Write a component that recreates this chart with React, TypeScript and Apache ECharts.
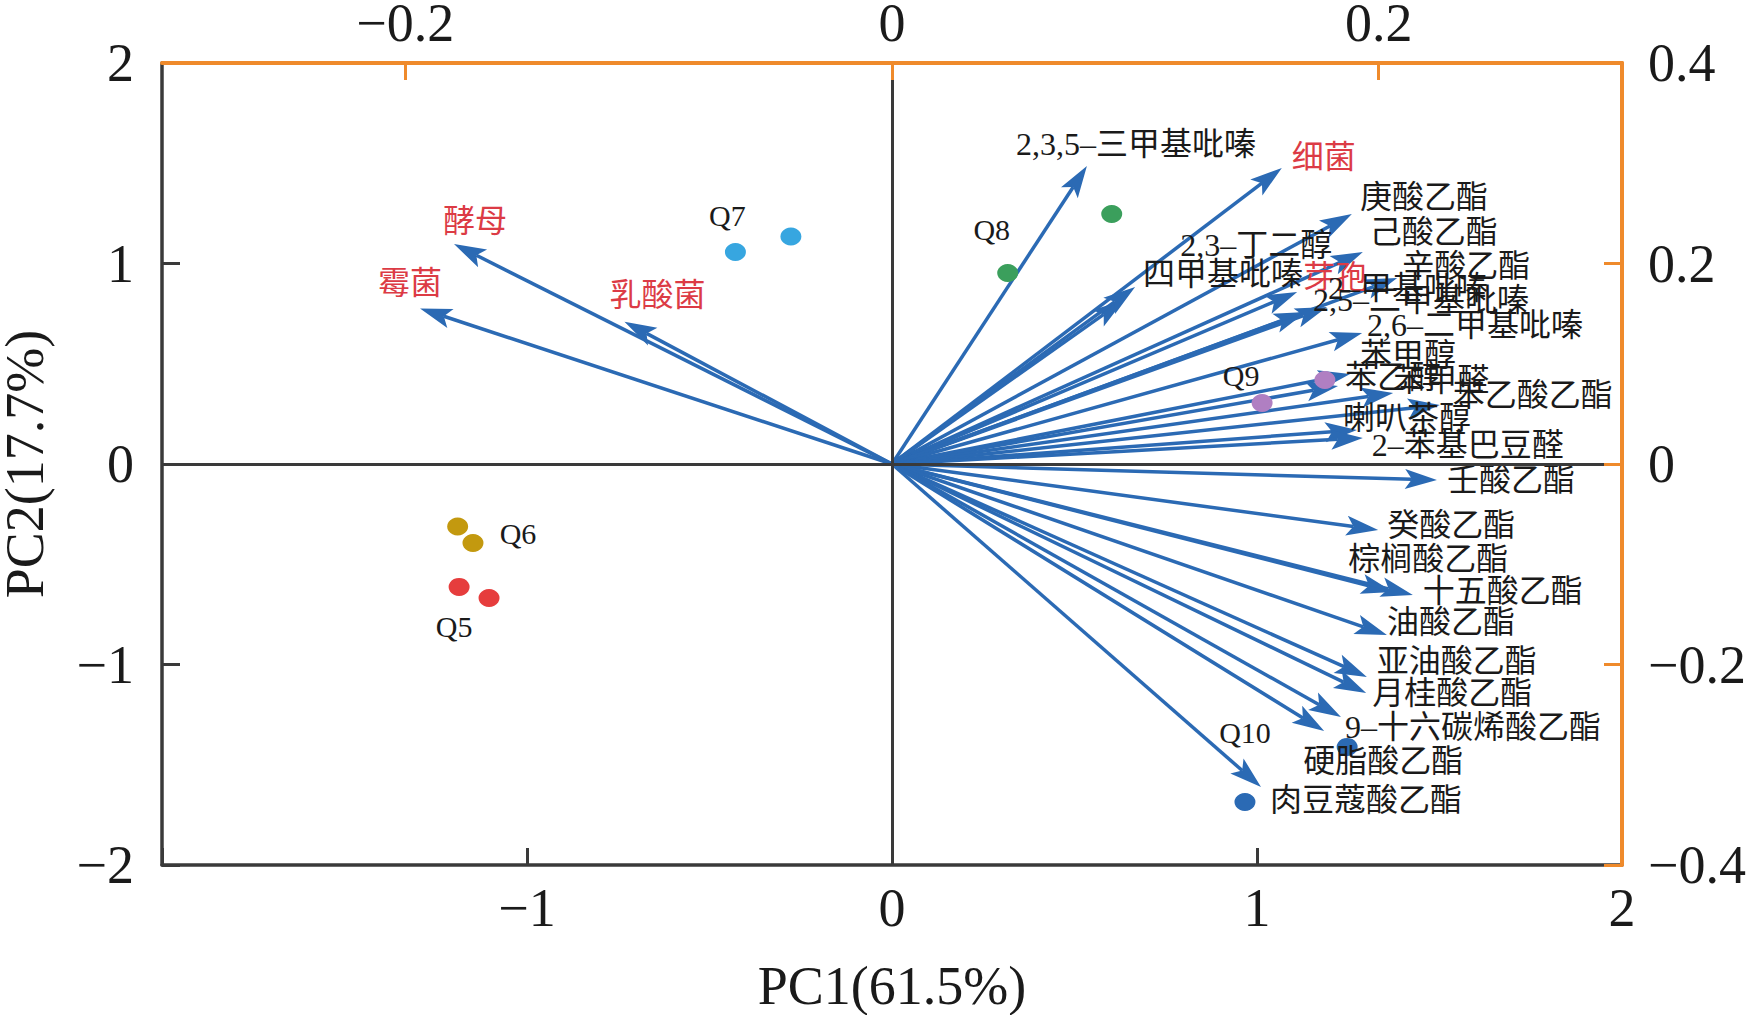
import { useEffect, useRef } from 'react';
import * as echarts from 'echarts';

const serif = "'Liberation Serif', 'Times New Roman', serif";
const mixed = "'Liberation Serif', 'Noto Sans CJK SC', serif";
const dark = '#3a3a3a';
const orange = '#ef8a2b';
const arrowColor = '#2b6ab4';
const textColor = '#1a1a1a';
const microbeColor = '#dc3b45';

// loadings (PC1, PC2) of the variables
const varNames = [
  '2,3,5–三甲基吡嗪', '细菌', '庚酸乙酯', '己酸乙酯', '2,3–丁二醇', '四甲基吡嗪',
  '辛酸乙酯', '芽孢', '2,5–二甲基吡嗪', '2–甲基吡嗪', '2,6–二甲基吡嗪', '苯甲醇',
  '苯乙醇', '苯甲醛', '苯乙酸乙酯', '喇叭茶醇', '2–苯基巴豆醛', '壬酸乙酯',
  '癸酸乙酯', '棕榈酸乙酯', '十五酸乙酯', '油酸乙酯', '亚油酸乙酯', '月桂酸乙酯',
  '9–十六碳烯酸乙酯', '硬脂酸乙酯', '肉豆蔻酸乙酯', '酵母', '霉菌', '乳酸菌',
];
const varPC1 = [
  0.534, 1.068, 1.26, 1.29, 0.636, 0.666,
  1.384, 1.11, 1.134, 1.192, 1.288, 1.255,
  1.222, 1.373, 1.501, 1.274, 1.29, 1.493,
  1.332, 1.373, 1.427, 1.356, 1.301, 1.299,
  1.23, 1.184, 1.011, -1.2, -1.293, -0.733,
];
const varPC2 = [
  1.486, 1.476, 1.247, 1.057, 0.818, 0.883,
  0.928, 0.858, 0.758, 0.783, 0.653, 0.449,
  0.389, 0.354, 0.294, 0.17, 0.13, -0.08,
  -0.329, -0.638, -0.653, -0.853, -1.062, -1.142,
  -1.262, -1.332, -1.611, 1.097, 0.776, 0.71,
];
const microbes = ['细菌', '芽孢', '酵母', '霉菌', '乳酸菌'];

// label placement relative to arrow tip, px
const labelOffsets: [number, number][] = [
  [-71, -22], [10, -11], [8, -17], [7, -20], [56, -55], [8, -13],
  [5, -12], [6, -15], [7, -12], [1, -19], [5, -8], [10, -19],
  [7, -9], [0, -13], [13, -10], [-14, -12], [9, 7], [10, 0],
  [9, -5], [-45, -33], [10, -4], [0, -13], [10, -16], [6, 0],
  [4, 10], [-21, 30], [9, 13], [-11, -23], [-42, -25], [-15, -27],
];

// sample scores
const sampleGroups = ['Q5', 'Q6', 'Q7', 'Q8', 'Q9', 'Q10'];
const samplePC1 = [
  [-1.186, -1.104],
  [-1.19, -1.148],
  [-0.429, -0.277],
  [0.317, 0.602],
  [1.014, 1.186],
  [0.967, 1.247],
];
const samplePC2 = [
  [-0.613, -0.668],
  [-0.312, -0.394],
  [1.057, 1.135],
  [0.953, 1.247],
  [0.304, 0.419],
  [-1.686, -1.411],
];
const groupColors = ['#e63d3d', '#c3990f', '#37a6e0', '#3b9f5c', '#b07fc2', '#2b6ab4'];
const groupLabelAnchor = [0, 1, 0, 0, 0, 0];
const groupLabelOffsets: [number, number][] = [[-5, 40], [45, -9], [-8, -37], [-16, -43], [-21, -28], [0, -70]];

const fmt = (v: number) => {
  const r = Math.round(v * 10) / 10;
  if (r === 0) return '0';
  return r < 0 ? '\u2212' + String(-r) : String(r);
};

export default function App() {
  const ref = useRef<HTMLDivElement | null>(null);

  useEffect(() => {
    if (!ref.current) return;
    const chart = echarts.init(ref.current, undefined, { renderer: 'svg' });

    const arrowData = varNames.map((_, i) => [varPC1[i], varPC2[i], i]);
    const labelStyle = { fontSize: 54, fontFamily: serif, color: textColor };

    chart.setOption({
      animation: false,
      backgroundColor: '#ffffff',
      grid: { left: 162, right: 128, top: 63, bottom: 150, containLabel: false, outerBoundsMode: 'none' },
      xAxis: [
        {
          type: 'value',
          position: 'bottom',
          min: -2,
          max: 2,
          interval: 1,
          axisLine: { show: true, onZero: false, lineStyle: { color: dark, width: 3.5 } },
          axisTick: { show: true, inside: true, length: 17, lineStyle: { color: dark, width: 3 } },
          axisLabel: { ...labelStyle, margin: 16, formatter: (v: number) => (v === -2 ? '' : fmt(v)) },
          splitLine: { show: false },
          name: 'PC1(61.5%)',
          nameLocation: 'middle',
          nameGap: 94,
          nameTextStyle: labelStyle,
        },
        {
          type: 'value',
          position: 'top',
          min: -0.3,
          max: 0.3,
          z: 5,
          axisLine: { show: true, onZero: false, lineStyle: { color: orange, width: 4 } },
          axisTick: { show: true, inside: true, length: 17, customValues: [-0.2, 0, 0.2], lineStyle: { color: orange, width: 3 } },
          axisLabel: { ...labelStyle, lineHeight: 44, margin: 18, customValues: [-0.2, 0, 0.2], formatter: fmt },
          splitLine: { show: false },
        },
      ],
      yAxis: [
        {
          type: 'value',
          position: 'left',
          min: -2,
          max: 2,
          interval: 1,
          axisLine: { show: true, onZero: false, lineStyle: { color: dark, width: 3.5 } },
          axisTick: { show: true, inside: true, length: 18, lineStyle: { color: dark, width: 3 } },
          axisLabel: { ...labelStyle, margin: 28, formatter: fmt },
          splitLine: { show: false },
          name: 'PC2(17.7%)',
          nameLocation: 'middle',
          nameGap: 115,
          nameTextStyle: { ...labelStyle, lineHeight: 44 },
        },
        {
          type: 'value',
          position: 'right',
          min: -0.4,
          max: 0.4,
          interval: 0.2,
          z: 5,
          axisLine: { show: true, onZero: false, lineStyle: { color: orange, width: 4 } },
          axisTick: { show: true, inside: true, length: 18, lineStyle: { color: orange, width: 3 } },
          axisLabel: { ...labelStyle, margin: 26, formatter: fmt },
          splitLine: { show: false },
        },
      ],
      series: [
        {
          type: 'line',
          data: [],
          z: 1,
          markLine: {
            silent: true,
            symbol: 'none',
            label: { show: false },
            lineStyle: { color: dark, width: 3, type: 'solid' },
            data: [{ xAxis: 0 }, { yAxis: 0 }],
          },
        },
        {
          type: 'custom',
          z: 2,
          encode: { x: 0, y: 1 },
          data: arrowData,
          renderItem: (_params: any, api: any) => {
            const p0 = api.coord([0, 0]);
            const p1 = api.coord([api.value(0), api.value(1)]);
            const dx = p1[0] - p0[0];
            const dy = p1[1] - p0[1];
            const len = Math.hypot(dx, dy);
            const ux = dx / len;
            const uy = dy / len;
            const px = -uy;
            const py = ux;
            const L = 32;
            const W = 10;
            const N = 7;
            const bx = p1[0] - ux * L;
            const by = p1[1] - uy * L;
            const nx = p1[0] - ux * (L - N);
            const ny = p1[1] - uy * (L - N);
            return {
              type: 'group',
              children: [
                {
                  type: 'line',
                  shape: { x1: p0[0], y1: p0[1], x2: nx, y2: ny },
                  style: { stroke: arrowColor, lineWidth: 3.5 },
                },
                {
                  type: 'polygon',
                  shape: { points: [[p1[0], p1[1]], [bx + px * W, by + py * W], [nx, ny], [bx - px * W, by - py * W]] },
                  style: { fill: arrowColor },
                },
              ],
            };
          },
        },
        ...sampleGroups.map((g, gi) => ({
          type: 'scatter',
          name: g,
          z: 3,
          symbol: 'circle',
          symbolSize: [21, 18],
          itemStyle: { color: groupColors[gi], opacity: 1 },
          data: samplePC1[gi].map((x, k) => ({
            value: [x, samplePC2[gi][k]],
            label:
              k === groupLabelAnchor[gi]
                ? {
                    show: true,
                    formatter: g,
                    position: 'inside',
                    offset: groupLabelOffsets[gi],
                    color: textColor,
                    fontSize: 30,
                    fontFamily: serif,
                  }
                : { show: false },
          })),
        })),
        {
          type: 'custom',
          z: 4,
          encode: { x: 0, y: 1 },
          data: arrowData,
          renderItem: (_params: any, api: any) => {
            const i = api.value(2);
            const p = api.coord([api.value(0), api.value(1)]);
            const off = labelOffsets[i];
            const name = varNames[i];
            return {
              type: 'text',
              x: p[0] + off[0],
              y: p[1] + off[1],
              style: {
                text: name,
                fill: microbes.includes(name) ? microbeColor : textColor,
                fontSize: 32,
                fontFamily: mixed,
                align: 'left',
                verticalAlign: 'middle',
              },
            };
          },
        },
      ],
    });

    return () => {
      chart.dispose();
    };
  }, []);

  return (
    <div
      ref={ref}
      style={{ position: 'absolute', left: 0, top: 0, width: 1750, height: 1015, background: '#ffffff' }}
    />
  );
}
